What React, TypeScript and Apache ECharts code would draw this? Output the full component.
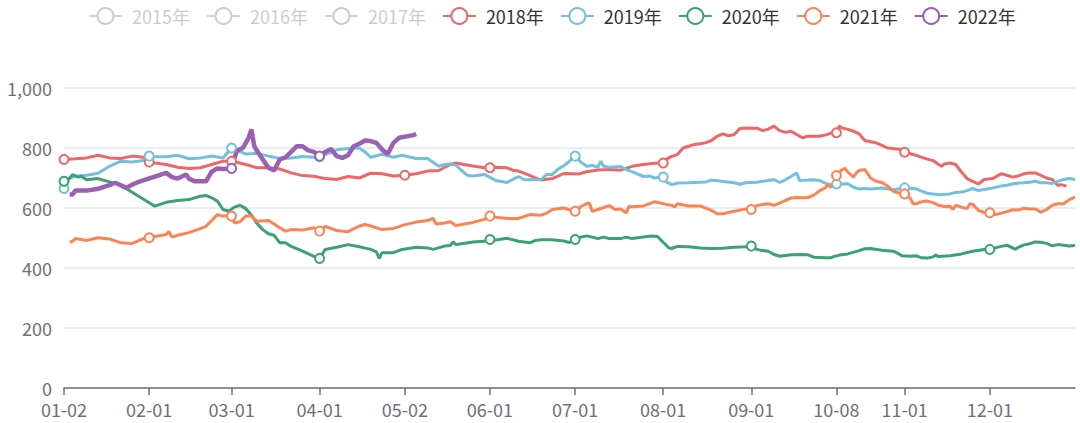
import React, { useEffect, useRef } from 'react';
import * as echarts from 'echarts';

const FONT = '"Noto Sans CJK SC", "Noto Sans", sans-serif';

// Categories: calendar days of the union of trading days (MM-DD), holidays removed
const MONTH_DAYS = [31, 29, 31, 30, 31, 30, 31, 31, 30, 31, 30, 31];
const EXCLUDED_DAYS = ['01-01', '05-01', '10-01', '10-02', '10-03', '10-04', '10-05', '10-06', '10-07'];
const pad = (n: number) => (n < 10 ? '0' + n : '' + n);
const categories: string[] = [];
MONTH_DAYS.forEach((len, m) => {
  for (let d = 1; d <= len; d++) {
    const key = pad(m + 1) + '-' + pad(d);
    if (!EXCLUDED_DAYS.includes(key)) categories.push(key);
  }
});

const tickLabels = ['01-02', '02-01', '03-01', '04-01', '05-02', '06-01', '07-01', '08-01', '09-01', '10-08', '11-01', '12-01'];

const seriesNames = ['2015年', '2016年', '2017年', '2018年', '2019年', '2020年', '2021年', '2022年'];
const seriesColors = ['#5470c6', '#91cc75', '#fac858', '#ee6666', '#73c0de', '#3ba272', '#fc8452', '#9a60b4'];
const hiddenYears = ['2015年', '2016年', '2017年'];

type P = [string, number];

const y2015: P[] = [];
const y2016: P[] = [];
const y2017: P[] = [];

const y2018: P[] = [
  ['01-02', 762], ['01-06', 764], ['01-10', 767], ['01-14', 776], ['01-18', 767], ['01-22', 765], ['01-26', 773], ['01-30', 769],
  ['02-01', 753], ['02-03', 750], ['02-07', 745], ['02-11', 736], ['02-15', 732], ['02-19', 734], ['02-23', 745], ['02-27', 756],
  ['03-01', 756], ['03-02', 754], ['03-06', 745], ['03-10', 734], ['03-14', 734], ['03-18', 730], ['03-22', 717], ['03-26', 708], ['03-30', 706],
  ['04-03', 698], ['04-07', 695], ['04-11', 705], ['04-15', 700], ['04-19', 716], ['04-23', 714], ['04-27', 707],
  ['05-02', 709], ['05-06', 714], ['05-10', 723], ['05-14', 725], ['05-18', 745], ['05-20', 750], ['05-22', 747], ['05-26', 740], ['05-30', 734],
  ['06-01', 734], ['06-03', 736], ['06-07', 734], ['06-09', 726], ['06-11', 723], ['06-13', 716], ['06-15', 709], ['06-17', 700], ['06-19', 693], ['06-23', 698], ['06-27', 715],
  ['07-02', 713], ['07-05', 721], ['07-09', 727], ['07-13', 728], ['07-17', 726], ['07-21', 739], ['07-25', 745], ['07-29', 749],
  ['08-01', 750], ['08-02', 762], ['08-04', 772], ['08-06', 778], ['08-08', 800], ['08-10', 806], ['08-12', 812], ['08-14', 814], ['08-16', 818], ['08-18', 825], ['08-20', 839], ['08-22', 847], ['08-24', 841], ['08-26', 845], ['08-28', 865], ['08-30', 867],
  ['09-03', 866], ['09-05', 858], ['09-07', 863], ['09-09', 873], ['09-11', 858], ['09-13', 852], ['09-15', 856], ['09-17', 845], ['09-19', 834], ['09-21', 839], ['09-23', 839], ['09-25', 839], ['09-27', 843], ['09-29', 849], ['09-30', 854],
  ['10-08', 851], ['10-09', 873], ['10-10', 867], ['10-12', 862], ['10-14', 856], ['10-16', 847], ['10-18', 825], ['10-20', 821], ['10-22', 817], ['10-24', 809], ['10-26', 800], ['10-28', 798], ['10-30', 796],
  ['11-01', 786], ['11-03', 781], ['11-05', 776], ['11-07', 769], ['11-09', 763], ['11-11', 758], ['11-13', 745], ['11-14', 739], ['11-15', 747], ['11-17', 750], ['11-19', 745], ['11-21', 720], ['11-23', 698], ['11-25', 689], ['11-27', 680], ['11-29', 695],
  ['12-02', 698], ['12-04', 709], ['12-05', 714], ['12-07', 709], ['12-09', 703], ['12-11', 707], ['12-13', 714], ['12-15', 717], ['12-17', 717], ['12-19', 709], ['12-21', 700], ['12-23', 695], ['12-25', 675], ['12-26', 678], ['12-28', 673],
];

const y2019: P[] = [
  ['01-02', 665], ['01-04', 700], ['01-06', 706], ['01-10', 709], ['01-14', 716], ['01-18', 739], ['01-22', 756], ['01-26', 753], ['01-30', 758],
  ['02-01', 773], ['02-03', 771], ['02-07', 771], ['02-11', 776], ['02-15', 764], ['02-19', 767], ['02-23', 773], ['02-27', 767],
  ['03-01', 800], ['03-02', 796], ['03-06', 780], ['03-10', 782], ['03-14', 773], ['03-18', 765], ['03-22', 767], ['03-26', 772], ['03-30', 769],
  ['04-01', 771], ['04-03', 778], ['04-07', 794], ['04-11', 798], ['04-15', 800], ['04-17', 787], ['04-19', 769], ['04-23', 779], ['04-27', 769], ['04-30', 776],
  ['05-06', 765], ['05-10', 765], ['05-14', 739], ['05-16', 745], ['05-18', 747], ['05-20', 743], ['05-22', 725], ['05-24', 709], ['05-26', 707], ['05-30', 712],
  ['06-03', 692], ['06-07', 685], ['06-11', 705], ['06-13', 695], ['06-15', 694], ['06-19', 695], ['06-21', 712], ['06-23', 712], ['06-25', 730], ['06-27', 741], ['06-29', 756],
  ['07-01', 773], ['07-03', 753], ['07-05', 739], ['07-07', 742], ['07-09', 736], ['07-10', 756], ['07-11', 739], ['07-13', 736], ['07-17', 738], ['07-19', 728], ['07-21', 721], ['07-25', 705], ['07-27', 707], ['07-29', 700],
  ['08-01', 703], ['08-02', 687], ['08-04', 678], ['08-06', 683], ['08-10', 684], ['08-14', 686], ['08-16', 687], ['08-18', 693], ['08-22', 688], ['08-26', 684], ['08-28', 679], ['08-30', 684],
  ['09-03', 686], ['09-07', 692], ['09-09', 695], ['09-11', 685], ['09-13', 694], ['09-15', 705], ['09-17', 717], ['09-18', 692], ['09-21', 693], ['09-23', 694], ['09-25', 692], ['09-27', 683], ['09-29', 678],
  ['10-08', 680], ['10-12', 681], ['10-14', 669], ['10-16', 663], ['10-18', 665], ['10-20', 663], ['10-24', 667], ['10-28', 661],
  ['11-01', 667], ['11-05', 664], ['11-09', 649], ['11-13', 644], ['11-17', 647], ['11-19', 652], ['11-21', 653], ['11-23', 658], ['11-25', 665], ['11-27', 658], ['11-29', 662],
  ['12-02', 667], ['12-05', 673], ['12-07', 676], ['12-09', 680], ['12-11', 683], ['12-13', 684], ['12-15', 686], ['12-17', 689], ['12-19', 684], ['12-21', 684], ['12-23', 682], ['12-25', 689], ['12-27', 695], ['12-29', 698], ['12-31', 695],
];

const y2020: P[] = [
  ['01-02', 689], ['01-04', 700], ['01-05', 711], ['01-07', 703], ['01-08', 706], ['01-10', 694], ['01-14', 698], ['01-18', 687], ['01-22', 678], ['01-23', 670],
  ['02-03', 606], ['02-07', 619], ['02-11', 625], ['02-15', 628], ['02-19', 639], ['02-21', 642], ['02-23', 634], ['02-25', 623], ['02-27', 595], ['02-29', 589],
  ['03-02', 603], ['03-04', 609], ['03-06', 598], ['03-08', 576], ['03-10', 548], ['03-12', 528], ['03-14', 514], ['03-16', 509], ['03-18', 484], ['03-20', 484], ['03-22', 472], ['03-26', 456], ['03-30', 439],
  ['04-01', 432], ['04-03', 462], ['04-07', 469], ['04-11', 478], ['04-15', 471], ['04-19', 462], ['04-21', 454], ['04-22', 432], ['04-23', 451], ['04-27', 451], ['04-30', 462],
  ['05-06', 469], ['05-10', 467], ['05-12', 462], ['05-16', 473], ['05-18', 475], ['05-19', 487], ['05-20', 478], ['05-22', 481], ['05-26', 487], ['05-30', 489],
  ['06-01', 495], ['06-03', 493], ['06-07', 499], ['06-11', 489], ['06-15', 484], ['06-17', 492], ['06-19', 494], ['06-23', 494], ['06-27', 490], ['06-29', 485],
  ['07-01', 495], ['07-03', 503], ['07-05', 507], ['07-07', 503], ['07-09', 498], ['07-11', 503], ['07-13', 498], ['07-17', 498], ['07-19', 503], ['07-21', 498], ['07-25', 503], ['07-28', 507], ['07-30', 505], ['07-31', 495],
  ['08-03', 467], ['08-04', 465], ['08-06', 472], ['08-10', 471], ['08-14', 467], ['08-18', 465], ['08-22', 466], ['08-26', 469], ['08-30', 471],
  ['09-01', 473], ['09-03', 462], ['09-05', 458], ['09-07', 456], ['09-09', 445], ['09-11', 439], ['09-15', 444], ['09-19', 445], ['09-21', 444], ['09-23', 436], ['09-27', 434], ['09-29', 434], ['09-30', 438],
  ['10-09', 443], ['10-12', 447], ['10-16', 458], ['10-18', 464], ['10-20', 465], ['10-24', 459], ['10-28', 456], ['10-30', 447], ['10-31', 441],
  ['11-03', 439], ['11-05', 441], ['11-07', 434], ['11-09', 433], ['11-11', 437], ['11-12', 443], ['11-13', 438], ['11-17', 441], ['11-21', 447], ['11-25', 456], ['11-29', 462],
  ['12-01', 462], ['12-03', 467], ['12-05', 472], ['12-07', 476], ['12-09', 467], ['12-10', 462], ['12-11', 469], ['12-13', 477], ['12-15', 481], ['12-17', 487], ['12-19', 486], ['12-21', 482], ['12-23', 474], ['12-25', 478], ['12-27', 476], ['12-29', 473], ['12-31', 475],
];

const y2021: P[] = [
  ['01-04', 486], ['01-05', 489], ['01-06', 498], ['01-10', 492], ['01-14', 501], ['01-18', 497], ['01-22', 484], ['01-26', 482], ['01-30', 498],
  ['02-01', 501], ['02-03', 505], ['02-07', 512], ['02-08', 521], ['02-09', 503], ['02-11', 509], ['02-15', 518], ['02-19', 531], ['02-21', 539], ['02-23', 558], ['02-25', 578], ['02-27', 573],
  ['03-01', 573], ['03-02', 550], ['03-04', 554], ['03-06', 573], ['03-08', 573], ['03-10', 556], ['03-14', 558], ['03-18', 534], ['03-20', 523], ['03-22', 528], ['03-26', 527], ['03-30', 534],
  ['04-01', 523], ['04-03', 539], ['04-07', 525], ['04-11', 521], ['04-15', 540], ['04-17', 545], ['04-19', 540], ['04-23', 528], ['04-27', 532], ['04-29', 538], ['04-30', 542],
  ['05-06', 553], ['05-10', 558], ['05-12', 565], ['05-13', 547], ['05-16', 550], ['05-18', 554], ['05-20', 542], ['05-22', 545], ['05-26', 552], ['05-30', 562],
  ['06-01', 573], ['06-03', 569], ['06-07', 565], ['06-11', 565], ['06-15', 578], ['06-19', 576], ['06-21', 583], ['06-23', 595], ['06-27', 600], ['06-29', 594],
  ['07-01', 589], ['07-03', 605], ['07-05', 614], ['07-06', 617], ['07-07', 589], ['07-09', 595], ['07-13', 608], ['07-15', 595], ['07-17', 597], ['07-19', 584], ['07-20', 606], ['07-21', 604], ['07-25', 607], ['07-27', 614], ['07-29', 621],
  ['08-02', 612], ['08-04', 609], ['08-05', 603], ['08-06', 614], ['08-10', 607], ['08-14', 607], ['08-18', 592], ['08-20', 581], ['08-22', 581], ['08-26', 589], ['08-30', 597],
  ['09-01', 595], ['09-03', 608], ['09-05', 612], ['09-07', 614], ['09-09', 609], ['09-11', 616], ['09-13', 625], ['09-15', 633], ['09-17', 635], ['09-19', 634], ['09-21', 635], ['09-23', 643], ['09-25', 657], ['09-27', 667], ['09-28', 678], ['09-29', 670], ['09-30', 676],
  ['10-08', 708], ['10-10', 728], ['10-11', 732], ['10-12', 720], ['10-14', 703], ['10-15', 717], ['10-16', 725], ['10-18', 728], ['10-20', 700], ['10-22', 689], ['10-24', 685], ['10-26', 673], ['10-28', 656], ['10-30', 650],
  ['11-01', 647], ['11-03', 632], ['11-04', 614], ['11-05', 614], ['11-07', 621], ['11-09', 623], ['11-11', 618], ['11-13', 609], ['11-15', 605], ['11-17', 606], ['11-18', 595], ['11-19', 609], ['11-21', 603], ['11-23', 598], ['11-24', 614], ['11-25', 612], ['11-27', 592], ['11-29', 585],
  ['12-01', 584], ['12-03', 578], ['12-05', 583], ['12-07', 588], ['12-09', 594], ['12-11', 593], ['12-13', 599], ['12-15', 597], ['12-17', 597], ['12-19', 586], ['12-21', 595], ['12-23', 609], ['12-25', 614], ['12-27', 614], ['12-29', 628], ['12-31', 636],
];

const y2022: P[] = [
  ['01-04', 645], ['01-05', 645], ['01-06', 658], ['01-10', 658], ['01-14', 664], ['01-18', 676], ['01-20', 684], ['01-22', 676], ['01-24', 667], ['01-26', 678], ['01-28', 686],
  ['02-07', 717], ['02-09', 703], ['02-11', 698], ['02-14', 712], ['02-15', 698], ['02-17', 689], ['02-19', 689], ['02-21', 689], ['02-23', 721], ['02-25', 732], ['02-27', 730],
  ['03-01', 732], ['03-02', 767], ['03-03', 792], ['03-05', 800], ['03-07', 834], ['03-08', 862], ['03-09', 806], ['03-10', 790], ['03-12', 762], ['03-14', 734], ['03-16', 725], ['03-18', 762], ['03-20', 769], ['03-22', 787], ['03-24', 806], ['03-26', 806], ['03-28', 792], ['03-30', 787],
  ['04-01', 773], ['04-03', 787], ['04-05', 797], ['04-07', 773], ['04-09', 767], ['04-11', 776], ['04-13', 806], ['04-15', 814], ['04-17', 825], ['04-19', 823], ['04-21', 817], ['04-23', 795], ['04-25', 780], ['04-27', 817], ['04-29', 834],
  ['05-05', 843], ['05-06', 847],
];

const seriesData: P[][] = [y2015, y2016, y2017, y2018, y2019, y2020, y2021, y2022];

const isTick = (_: number, value: string) => tickLabels.includes(value);

export default function App() {
  const ref = useRef<HTMLDivElement>(null);
  useEffect(() => {
    if (!ref.current) return;
    const chart = echarts.init(ref.current, null, { renderer: 'svg' });
    const selected: Record<string, boolean> = {};
    seriesNames.forEach((n) => (selected[n] = !hiddenYears.includes(n)));
    chart.setOption({
      animation: false,
      color: seriesColors,
      textStyle: { fontFamily: FONT },
      legend: {
        data: seriesNames,
        selected,
        top: 2,
        left: 83,
        itemWidth: 33,
        itemHeight: 20,
        itemGap: 16,
        inactiveColor: '#ccc',
        textStyle: { fontSize: 18, color: '#333', fontFamily: FONT, padding: [0, 0, 0, 5] },
      },
      grid: { left: 64, right: 5, top: 88, bottom: 35, containLabel: false, outerBoundsMode: 'none' },
      xAxis: {
        type: 'category',
        data: categories,
        boundaryGap: false,
        axisLine: { lineStyle: { color: '#6e7079', width: 1.5 } },
        axisTick: { show: true, length: 7, interval: isTick, lineStyle: { color: '#6e7079', width: 1.5 } },
        axisLabel: { interval: isTick, fontSize: 18, lineHeight: 18, color: '#6e7079', margin: 12, hideOverlap: false, fontFamily: FONT },
        splitLine: { show: false },
      },
      yAxis: {
        type: 'value',
        min: 0,
        max: 1000,
        interval: 200,
        axisLine: { show: false },
        axisTick: { show: false },
        axisLabel: {
          fontSize: 18,
          lineHeight: 16,
          color: '#6e7079',
          margin: 12,
          fontFamily: FONT,
          formatter: (v: number) => v.toLocaleString('en-US'),
        },
        splitLine: { lineStyle: { color: '#E0E6F1', width: 1.5 } },
      },
      series: seriesNames.map((name, i) => ({
        name,
        type: 'line',
        data: seriesData[i],
        symbol: 'emptyCircle',
        symbolSize: 9,
        showSymbol: true,
        lineStyle: { width: name === '2022年' ? 4.5 : 3, color: seriesColors[i] },
        itemStyle: { color: seriesColors[i], borderWidth: 2.5 },
      })),
    });
    return () => chart.dispose();
  }, []);
  return <div ref={ref} style={{ position: 'absolute', left: 0, top: 0, width: 1080, height: 423 }} />;
}
